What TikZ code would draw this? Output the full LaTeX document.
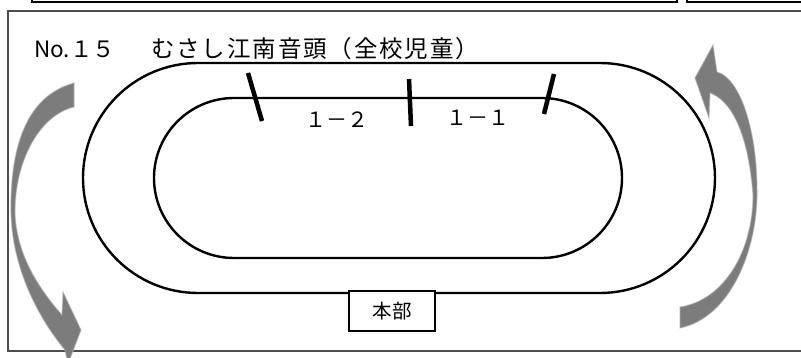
\documentclass[tikz,border=0pt]{standalone}
\usepackage{fontspec}
\setmainfont{Noto Sans CJK JP}
\definecolor{framegray}{HTML}{4D4D4D}
\definecolor{arrowgray}{HTML}{7C7C7C}
\begin{document}
\begin{tikzpicture}[x=1pt,y=-1pt,
  track/.style={draw=black,line width=2.4pt},
  tickmark/.style={draw=black,line width=4.5pt},
  bigarrow/.style={fill=arrowgray,draw=arrowgray!60,line width=1.2pt,draw opacity=0.5},
  lbl/.style={font=\fontsize{21}{21}\selectfont,inner sep=0pt},
  ttl/.style={font=\fontsize{22.5}{22.5}\selectfont,inner sep=0pt},
  hqbox/.style={draw=black,line width=1.2pt,fill=white,minimum width=86pt,minimum height=40pt,inner sep=0pt,font=\fontsize{19.5}{19.5}\selectfont}]
\useasboundingbox (0,0) rectangle (801,358);
\clip (0,0) rectangle (801,358);
% top boxes (cut off)
\draw[line width=1.4pt] (32,-10) rectangle (677,2);
\draw[line width=1.4pt] (687,-10) rectangle (810,2);
% main frame
\draw[framegray,line width=2pt] (8,11) rectangle (810,351);
% title
\node[ttl,anchor=base west] (titleno) at (34,58) {No.１５};
\node[ttl,anchor=base west] (title) at (151,58) {\fontsize{23.5}{23.5}\selectfont\addfontfeature{LetterSpace=8}むさし江南音頭（全校児童）};
% tracks
\draw[track,rounded corners=115pt] (83,63) rectangle (715,293);
\draw[track,rounded corners=80pt] (154,98) rectangle (622,258);
% ticks
\draw[tickmark] (248,73) -- (262,121);
\draw[tickmark] (409,79) -- (411,126);
\draw[tickmark] (554,74) -- (544,114);
% labels
\node[lbl,anchor=base] (l12) at (337,128) {１－２};
\node[lbl,anchor=base] (l11) at (478,126) {１－１};
% HQ
\node[hqbox] (hq) at (392,311) {本部};
% left arrow
\path[bigarrow] (74,83) .. controls (30,95) and (10,140) .. (11,212)
  .. controls (12,270) and (40,320) .. (65,350) -- (68,364) -- (81,330) -- (63,292) -- (62,315)
  .. controls (40,290) and (16,255) .. (15,212)
  .. controls (15,160) and (40,115) .. (74,107) -- cycle;
% right arrow
\path[bigarrow] (680,328) .. controls (730,318) and (758,250) .. (757,190)
  .. controls (757,130) and (740,78) .. (717,72) -- (713,45) -- (695,78) -- (709,118) -- (710,93)
  .. controls (730,100) and (748,130) .. (753,195)
  .. controls (753,250) and (725,300) .. (680,307) -- cycle;
\end{tikzpicture}
\end{document}
